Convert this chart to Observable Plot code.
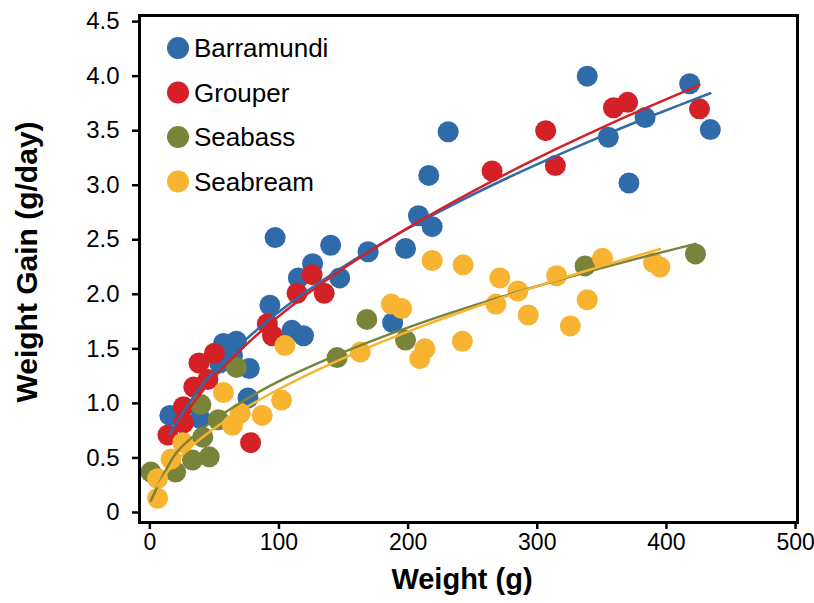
<!DOCTYPE html>
<html>
<head>
<meta charset="utf-8">
<script src="https://cdn.jsdelivr.net/npm/d3@7"></script>
<script src="https://cdn.jsdelivr.net/npm/@observablehq/plot@0.6"></script>
<style>
  html, body { margin: 0; padding: 0; background: #fff; }
  #chart { width: 814px; height: 603px; }
</style>
</head>
<body>
<div id="chart"></div>
<script>
// ---- Data ----
const seriesNames = ["Barramundi", "Grouper", "Seabass", "Seabream"];
const seriesColors = ["#2f6ba8", "#d42128", "#79833a", "#f8b330"];
// how each power trendline is fitted: "ls" = least squares on y, "log" = least squares in log-log space
const fitMethods = ["ls", "ls", "ls", "log"];

const barramundiWeight = [15.5, 39, 54, 57, 64, 67, 76, 77, 93, 97, 110, 115, 119, 126, 140, 147, 169, 188, 198, 208, 216, 218.6, 231, 338.7, 355, 371, 383.5, 418, 434];
const barramundiGain   = [0.89, 0.86, 1.37, 1.55, 1.44, 1.57, 1.05, 1.32, 1.90, 2.52, 1.67, 2.15, 1.62, 2.28, 2.45, 2.15, 2.39, 1.74, 2.42, 2.72, 3.09, 2.62, 3.49, 4.00, 3.44, 3.02, 3.62, 3.93, 3.51];

const grouperWeight = [14, 26, 26, 34, 38, 45, 50, 78, 91, 95, 114, 125.6, 135, 265, 306.5, 314, 359, 370, 425.6];
const grouperGain   = [0.71, 0.82, 0.97, 1.15, 1.37, 1.22, 1.46, 0.64, 1.73, 1.62, 2.01, 2.18, 2.01, 3.13, 3.50, 3.18, 3.71, 3.76, 3.70];

const seabassWeight = [0.8, 20, 33, 39.5, 41, 46, 53, 67, 145, 168, 198, 337, 422.5];
const seabassGain   = [0.37, 0.37, 0.48, 0.99, 0.69, 0.51, 0.85, 1.33, 1.42, 1.77, 1.58, 2.26, 2.37];

const seabreamWeight = [6, 6, 16.5, 25.6, 57, 64, 70, 87, 102, 104.6, 163, 187, 195, 209, 213, 218.6, 242, 242.6, 268, 271, 285, 293, 315, 325.6, 338.7, 350.5, 390, 395];
const seabreamGain   = [0.13, 0.31, 0.49, 0.64, 1.10, 0.80, 0.91, 0.89, 1.03, 1.53, 1.47, 1.91, 1.87, 1.41, 1.50, 2.31, 1.57, 2.27, 1.91, 2.15, 2.03, 1.81, 2.17, 1.71, 1.95, 2.33, 2.29, 2.25];

const xTicks = [0, 100, 200, 300, 400, 500];
const yTicks = [0, 0.5, 1.0, 1.5, 2.0, 2.5, 3.0, 3.5, 4.0, 4.5];
const xLabel = "Weight (g)";
const yLabel = "Weight Gain (g/day)";

// ---- Build tables ----
const weights = [barramundiWeight, grouperWeight, seabassWeight, seabreamWeight];
const gains = [barramundiGain, grouperGain, seabassGain, seabreamGain];
const series = seriesNames.map((name, i) => ({
  name,
  color: seriesColors[i],
  method: fitMethods[i],
  points: weights[i].map((w, j) => ({weight: w, gain: gains[i][j]}))
}));

// Power trendline y = a·x^b fitted to the series' points, evaluated at the series' own weights
function powerFit(points, method) {
  let a, b;
  if (method === "log") {
    const lx = points.map(p => Math.log(p.weight)), ly = points.map(p => Math.log(p.gain));
    const mx = d3.mean(lx), my = d3.mean(ly);
    b = d3.sum(lx.map((v, k) => (v - mx) * (ly[k] - my))) / d3.sum(lx.map(v => (v - mx) ** 2));
    a = Math.exp(my - b * mx);
  } else {
    let best = {sse: Infinity, a: 0, b: 0};
    for (let bb = 0.1; bb <= 1.0; bb += 0.0005) {
      const sxy = d3.sum(points, p => p.gain * Math.pow(p.weight, bb));
      const sxx = d3.sum(points, p => Math.pow(p.weight, 2 * bb));
      const aa = sxy / sxx;
      const sse = d3.sum(points, p => (p.gain - aa * Math.pow(p.weight, bb)) ** 2);
      if (sse < best.sse) best = {sse, a: aa, b: bb};
    }
    a = best.a; b = best.b;
  }
  return points.map(p => p.weight).sort((u, v) => u - v)
    .map(w => ({weight: w, gain: a * Math.pow(w, b)}));
}

const marks = [];
for (const s of series) {
  marks.push(Plot.dot(s.points, {x: "weight", y: "gain", r: 10.5, fill: s.color, stroke: "none"}));
}
for (const s of series) {
  marks.push(Plot.line(powerFit(s.points, s.method), {x: "weight", y: "gain", stroke: s.color, strokeWidth: 2.5, curve: "monotone-x"}));
}

const fontFamily = "'Liberation Sans', Arial, sans-serif";

const chart = Plot.plot({
  width: 814,
  height: 603,
  marginLeft: 139,
  marginRight: 17,
  marginTop: 15,
  marginBottom: 81,
  style: {fontFamily, fontSize: "23px", background: "#fff", color: "#000"},
  x: {domain: [-8, 501.5]},
  y: {domain: [-0.092, 4.556]},
  marks: [
    ...marks,
    Plot.axisX({ticks: xTicks, tickSize: 7, tickPadding: 4, strokeWidth: 2.5, label: null, tickFormat: d => String(d), fontSize: 23}),
    Plot.axisY({ticks: yTicks, tickSize: 7, tickPadding: 13, strokeWidth: 2.5, label: null, tickFormat: d => d === 0 ? "0" : d.toFixed(1), fontSize: 24}),
    Plot.frame({stroke: "#000", strokeWidth: 3})
  ]
});

const svg = d3.select(chart);
// Axis titles
svg.append("text")
  .attr("x", 462).attr("y", 589)
  .attr("text-anchor", "middle")
  .attr("font-family", fontFamily).attr("font-weight", "bold").attr("font-size", 29)
  .attr("fill", "#000")
  .text(xLabel);
svg.append("text")
  .attr("transform", "translate(37,262) rotate(-90)")
  .attr("text-anchor", "middle")
  .attr("font-family", fontFamily).attr("font-weight", "bold").attr("font-size", 30)
  .attr("fill", "#000")
  .text(yLabel);
// Legend
const leg = svg.append("g");
seriesNames.forEach((name, i) => {
  const cy = 48 + 44.5 * i;
  leg.append("circle").attr("cx", 178).attr("cy", cy).attr("r", 11).attr("fill", seriesColors[i]);
  leg.append("text").attr("x", 194).attr("y", cy).attr("dy", "0.36em")
    .attr("text-anchor", "start")
    .attr("font-family", fontFamily).attr("font-size", 26).attr("fill", "#000")
    .text(name);
});

document.getElementById("chart").appendChild(chart);
</script>
</body>
</html>
